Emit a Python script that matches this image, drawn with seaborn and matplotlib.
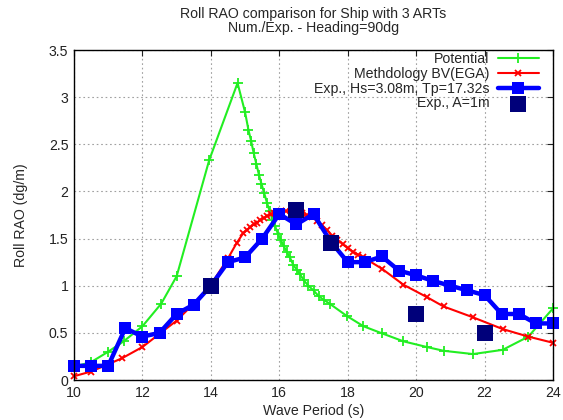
import matplotlib
matplotlib.use("Agg")
import matplotlib.pyplot as plt
import seaborn as sns
import pandas as pd

# Potential-flow RAO
pot_period = [10.0, 10.5, 11.0, 11.45, 12.0, 12.55, 13.0, 13.95, 14.78, 15.0, 15.1,
              15.18, 15.25, 15.33, 15.41, 15.48, 15.56, 15.64, 15.72, 15.8, 15.88,
              15.96, 16.04, 16.13, 16.22, 16.31, 16.41, 16.51, 16.61, 16.71, 16.85,
              17.0, 17.15, 17.3, 17.47, 17.97, 18.46, 19.0, 19.63, 20.31, 20.8,
              21.66, 22.53, 23.28, 24.0]
pot_rao = [0.14, 0.19, 0.30, 0.41, 0.57, 0.81, 1.10, 2.33, 3.15, 2.84, 2.65,
           2.53, 2.41, 2.29, 2.17, 2.08, 1.98, 1.88, 1.79, 1.70, 1.63,
           1.55, 1.49, 1.42, 1.36, 1.30, 1.22, 1.17, 1.12, 1.06, 1.00,
           0.95, 0.89, 0.85, 0.81, 0.68, 0.57, 0.495, 0.41, 0.35, 0.31,
           0.275, 0.32, 0.46, 0.76]

# BV(EGA) methodology RAO
bv_period = [10.0, 10.5, 11.4, 12.0, 12.5, 13.0, 13.5, 14.0, 14.5, 14.75, 14.95,
             15.05, 15.15, 15.25, 15.35, 15.45, 15.55, 15.65, 15.75, 15.85, 15.95,
             16.05, 16.2, 16.35, 16.5, 16.65, 16.8, 16.95, 17.1, 17.25, 17.4,
             17.55, 17.7, 17.85, 18.0, 18.15, 18.3, 18.46, 19.0, 19.63, 20.31,
             20.8, 21.66, 22.53, 23.28, 24.0]
bv_rao = [0.04, 0.09, 0.23, 0.35, 0.49, 0.63, 0.81, 1.01, 1.29, 1.45, 1.56,
          1.59, 1.62, 1.65, 1.67, 1.70, 1.72, 1.74, 1.76, 1.77, 1.78,
          1.79, 1.79, 1.79, 1.78, 1.77, 1.75, 1.73, 1.69, 1.64, 1.59,
          1.53, 1.49, 1.44, 1.40, 1.36, 1.33, 1.30, 1.18, 1.01, 0.88,
          0.78, 0.665, 0.54, 0.46, 0.395]

# Irregular-wave experiment
irr_period = [10.0, 10.5, 11.0, 11.5, 12.0, 12.5, 13.0, 13.5, 14.0, 14.5, 15.0,
              15.5, 16.0, 16.5, 17.0, 17.5, 18.0, 18.5, 19.0, 19.5, 20.0,
              20.5, 21.0, 21.5, 22.0, 22.5, 23.0, 23.5, 24.0]
irr_rao = [0.15, 0.15, 0.15, 0.55, 0.46, 0.50, 0.70, 0.80, 1.00, 1.25, 1.30,
           1.50, 1.76, 1.65, 1.76, 1.47, 1.25, 1.25, 1.31, 1.16, 1.11,
           1.05, 1.00, 0.95, 0.90, 0.70, 0.70, 0.60, 0.60]

# Regular-wave experiment, A = 1 m
reg_period = [14.0, 16.5, 17.5, 20.0, 22.0]
reg_rao = [1.00, 1.80, 1.45, 0.70, 0.50]

x_ticks = [10, 12, 14, 16, 18, 20, 22, 24]
y_ticks = [0, 0.5, 1, 1.5, 2, 2.5, 3, 3.5]
y_tick_labels = ["0", "0.5", "1", "1.5", "2", "2.5", "3", "3.5"]

FS = 10.2
GREEN, RED, BLUE, NAVY = "#22ee22", "#ff0000", "#0000ff", "#00007a"

sns.set_theme(style="white")
plt.rcParams["font.family"] = ["Liberation Sans", "DejaVu Sans"]
plt.rcParams["font.size"] = FS

fig = plt.figure(figsize=(5.63, 4.2), dpi=100)
ax = fig.add_axes([74 / 563, 40 / 420, 479 / 563, 330 / 420])

pot = pd.DataFrame({"T": pot_period, "RAO": pot_rao})
bv = pd.DataFrame({"T": bv_period, "RAO": bv_rao})
irr = pd.DataFrame({"T": irr_period, "RAO": irr_rao})
reg = pd.DataFrame({"T": reg_period, "RAO": reg_rao})

sns.lineplot(data=pot, x="T", y="RAO", ax=ax, sort=False, estimator=None,
             color=GREEN, lw=1.5, marker="+", markersize=7, mew=1.3, mec=GREEN,
             label="Potential", clip_on=False)
sns.lineplot(data=bv, x="T", y="RAO", ax=ax, sort=False, estimator=None,
             color=RED, lw=1.5, marker="x", markersize=5, mew=1.3, mec=RED,
             label="Methdology BV(EGA)", clip_on=False)
sns.lineplot(data=irr, x="T", y="RAO", ax=ax, sort=False, estimator=None,
             color=BLUE, lw=3.2, marker="s", markersize=8, mew=0, mec=BLUE,
             label="Exp., Hs=3.08m, Tp=17.32s", clip_on=False)
sns.scatterplot(data=reg, x="T", y="RAO", ax=ax, color=NAVY, marker="s",
                s=130, linewidth=0, label="Exp., A=1m", clip_on=False, zorder=5)

ax.set_xlim(10, 24)
ax.set_ylim(0, 3.5)
ax.set_xticks(x_ticks)
ax.set_yticks(y_ticks)
ax.set_yticklabels(y_tick_labels)
ax.grid(True, color="#a0a0a0", linestyle=(0, (1.5, 2.5)), linewidth=0.8)
ax.set_axisbelow(True)
for s in ax.spines.values():
    s.set_color("black")
    s.set_linewidth(1.0)
ax.tick_params(direction="in", length=4, width=0.8, top=True, right=True,
               labelsize=FS, colors="#222222", pad=4)

ax.set_xlabel("Wave Period (s)", fontsize=FS, labelpad=3)
ax.set_ylabel("Roll RAO (dg/m)", fontsize=FS, labelpad=15)
ax.set_title("Roll RAO comparison for Ship with 3 ARTs\nNum./Exp. - Heading=90dg",
             fontsize=FS, linespacing=0.95, pad=13)

leg = ax.legend(loc="upper right", bbox_to_anchor=(0.975, 1.0), frameon=False,
                markerfirst=False, handlelength=2.9, handletextpad=0.6,
                labelspacing=0.05, borderaxespad=0.0, borderpad=0.15,
                fontsize=FS)

fig.savefig("out.png", dpi=100)
